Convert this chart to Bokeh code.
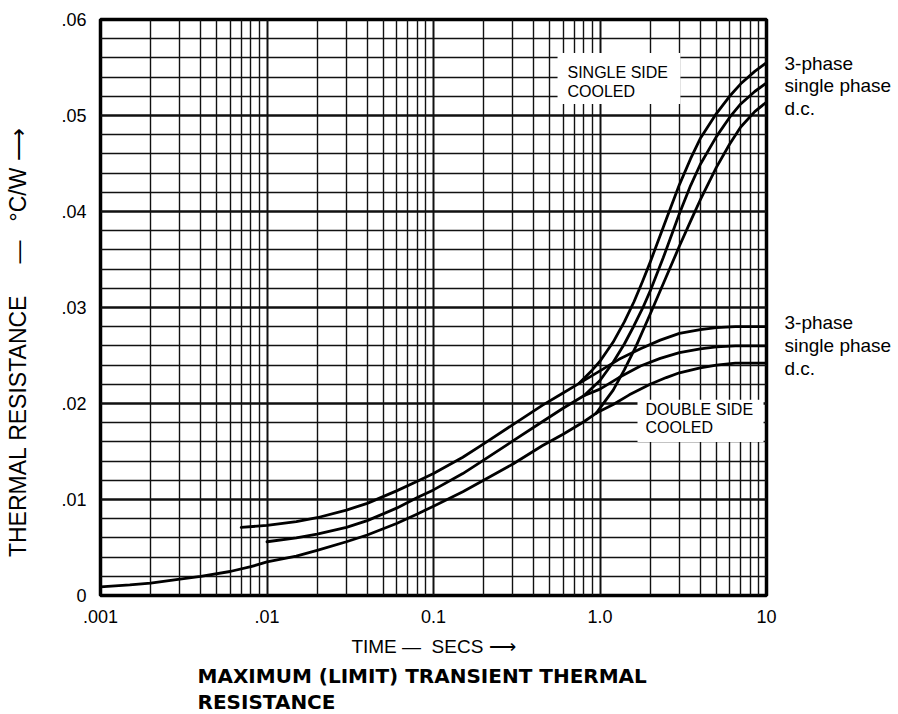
from bokeh.plotting import figure
from bokeh.models import FixedTicker, Label, BoxAnnotation, Range1d, LinearAxis, Title
from bokeh.embed import file_html
from bokeh.resources import INLINE

# ---- axis ticks ----
x_ticks = [0.001, 0.01, 0.1, 1.0, 10.0]
x_tick_labels = [".001", ".01", "0.1", "1.0", "10"]
x_minor = [m * d for d in [0.001, 0.01, 0.1, 1.0] for m in [2, 3, 4, 5, 6, 7, 8, 9]]
y_ticks = [0.0, 0.01, 0.02, 0.03, 0.04, 0.05, 0.06]
y_tick_labels = ["0", ".01", ".02", ".03", ".04", ".05", ".06"]
y_minor = [0.002, 0.004, 0.006, 0.008, 0.012, 0.014, 0.016, 0.018, 0.022, 0.024, 0.026, 0.028,
           0.032, 0.034, 0.036, 0.038, 0.042, 0.044, 0.046, 0.048, 0.052, 0.054, 0.056, 0.058]

# ---- shared (low time) portions ----
three_low_x = [0.007, 0.01, 0.015, 0.02, 0.03, 0.04, 0.06, 0.08, 0.1, 0.15, 0.2, 0.3, 0.45, 0.6, 0.75]
three_low_y = [0.0071, 0.0073, 0.0077, 0.0081, 0.0089, 0.0096, 0.0109, 0.0119, 0.0127, 0.0144, 0.0158, 0.0178, 0.0198, 0.0211, 0.0221]

single_low_x = [0.01, 0.015, 0.02, 0.03, 0.04, 0.06, 0.08, 0.1, 0.15, 0.2, 0.3, 0.45, 0.6, 0.8]
single_low_y = [0.0056, 0.0060, 0.0064, 0.0071, 0.0078, 0.0091, 0.0102, 0.0110, 0.0127, 0.0141, 0.0161, 0.0181, 0.0195, 0.0208]

dc_low_x = [0.001, 0.0015, 0.002, 0.003, 0.004, 0.006, 0.008, 0.01, 0.015, 0.02, 0.03, 0.04, 0.06, 0.08, 0.1,
            0.15, 0.2, 0.3, 0.45, 0.6, 0.8, 0.95]
dc_low_y = [0.0009, 0.0011, 0.0013, 0.0017, 0.0020, 0.0025, 0.0030, 0.0035, 0.0041, 0.0047, 0.0056, 0.0063, 0.0075,
            0.0085, 0.0093, 0.0108, 0.0120, 0.0137, 0.0156, 0.0168, 0.0181, 0.0190]

# ---- single side cooled branches ----
three_ssc_x = [0.75, 0.9, 1.0, 1.2, 1.4, 1.6, 1.8, 2.0, 2.5, 3.0, 3.5, 4.0, 5.0, 6.0, 7.0, 8.5, 10.0]
three_ssc_y = [0.0221, 0.0235, 0.0244, 0.0264, 0.0285, 0.0306, 0.0327, 0.0347, 0.0392, 0.0428, 0.0455, 0.0476,
               0.0502, 0.0520, 0.0533, 0.0546, 0.0555]
single_ssc_x = [0.8, 1.0, 1.2, 1.4, 1.6, 1.8, 2.0, 2.4, 3.0, 3.5, 4.0, 5.0, 6.0, 7.0, 8.5, 10.0]
single_ssc_y = [0.0208, 0.0224, 0.0243, 0.0262, 0.0281, 0.0299, 0.0317, 0.0352, 0.0398, 0.0427, 0.0449, 0.0478,
                0.0498, 0.0512, 0.0525, 0.0534]
dc_ssc_x = [0.95, 1.2, 1.4, 1.65, 2.0, 2.5, 3.0, 3.5, 4.0, 5.0, 6.0, 7.0, 8.5, 10.0]
dc_ssc_y = [0.0190, 0.0214, 0.0235, 0.0260, 0.0293, 0.0332, 0.0364, 0.0390, 0.0412, 0.0446, 0.0470, 0.0488,
            0.0504, 0.0514]

# ---- double side cooled branches ----
three_dsc_x = [0.75, 1.0, 1.3, 1.75, 2.3, 3.0, 4.0, 5.0, 6.5, 10.0]
three_dsc_y = [0.0221, 0.0234, 0.0246, 0.0257, 0.0266, 0.0273, 0.0277, 0.0279, 0.0280, 0.0280]
single_dsc_x = [0.8, 1.0, 1.3, 1.75, 2.3, 3.0, 4.0, 5.0, 6.5, 10.0]
single_dsc_y = [0.0208, 0.0215, 0.0227, 0.0239, 0.0247, 0.0253, 0.0257, 0.0259, 0.0260, 0.0260]
dc_dsc_x = [0.95, 1.2, 1.5, 2.0, 2.5, 3.0, 4.0, 5.0, 6.5, 10.0]
dc_dsc_y = [0.0190, 0.0199, 0.0209, 0.0220, 0.0227, 0.0232, 0.0237, 0.0240, 0.0242, 0.0242]

curve_labels = ["3-phase", "single phase", "d.c."]
ssc_label_y = [0.0554, 0.0531, 0.0507]
dsc_label_y = [0.0284, 0.0260, 0.0236]

FONT = "Liberation Sans"
NB = "\u00a0"

p = figure(x_axis_type="log", x_range=Range1d(0.001, 10), y_range=Range1d(0, 0.06),
           frame_width=666, frame_height=576,
           min_border_left=100, min_border_right=124, min_border_top=19, min_border_bottom=118,
           output_backend="svg", toolbar_location=None)
p.background_fill_color = "white"
p.border_fill_color = "white"
p.outline_line_color = "black"
p.outline_line_width = 3.5

p.xaxis.ticker = FixedTicker(ticks=x_ticks, minor_ticks=x_minor)
p.yaxis.ticker = FixedTicker(ticks=y_ticks, minor_ticks=y_minor)
p.xaxis.major_label_overrides = {t: l for t, l in zip(x_ticks, x_tick_labels)}
p.yaxis.major_label_overrides = {t: l for t, l in zip(y_ticks, y_tick_labels)}
for ax in (p.xaxis[0], p.yaxis[0]):
    ax.axis_line_color = None
    ax.major_tick_line_color = None
    ax.minor_tick_line_color = None
    ax.major_label_text_font = FONT
    ax.major_label_text_font_size = "18px"
    ax.major_label_text_color = "black"
p.xaxis.major_label_standoff = 8
p.yaxis.major_label_standoff = 8

p.xaxis.axis_label = "TIME" + NB + "—" + NB + NB + "SECS" + NB + "⟶"
p.xaxis.axis_label_text_font = FONT
p.xaxis.axis_label_text_font_size = "19px"
p.xaxis.axis_label_text_font_style = "normal"
p.xaxis.axis_label_text_color = "black"
p.xaxis.axis_label_standoff = 10

# y axis title; trailing no-break spaces push the visible text below the frame centre
p.yaxis.axis_label = ("THERMAL" + NB + "RESISTANCE" + NB * 5 + "—" + NB * 3 + "°C/W" + NB + "⟶" + NB * 11)
p.yaxis.axis_label_text_font = FONT
p.yaxis.axis_label_text_font_size = "23px"
p.yaxis.axis_label_text_font_style = "normal"
p.yaxis.axis_label_text_color = "black"
p.yaxis.axis_label_standoff = 27

# right-hand curve names, set as labels of a right axis
lab_ticks = ssc_label_y + dsc_label_y
lab_text = curve_labels + curve_labels
right = LinearAxis(ticker=FixedTicker(ticks=lab_ticks),
                   major_label_overrides={t: l for t, l in zip(lab_ticks, lab_text)},
                   axis_line_color=None, major_tick_line_color=None, minor_tick_line_color=None,
                   major_label_standoff=12, major_label_text_font=FONT,
                   major_label_text_font_size="19px", major_label_text_color="black")
p.add_layout(right, "right")

p.add_layout(Title(text="MAXIMUM (LIMIT) TRANSIENT THERMAL", align="left", offset=97, standoff=4,
                   text_font="DejaVu Sans", text_font_size="20px", text_font_style="bold",
                   text_color="black"), "below")
p.add_layout(Title(text="RESISTANCE", align="left", offset=97, standoff=-4,
                   text_font="DejaVu Sans", text_font_size="20px", text_font_style="bold",
                   text_color="black"), "below")

p.xgrid.grid_line_color = "#111111"
p.xgrid.grid_line_width = 2
p.xgrid.minor_grid_line_color = "#111111"
p.xgrid.minor_grid_line_width = 1.4
p.ygrid.grid_line_color = "#111111"
p.ygrid.grid_line_width = 2.6
p.ygrid.minor_grid_line_color = "#111111"
p.ygrid.minor_grid_line_width = 1.5

# white boxes behind the inset notes
p.add_layout(BoxAnnotation(left=0.556, right=3.04, bottom=0.0512, top=0.0565,
                           fill_color="white", fill_alpha=1, line_color=None, level="glyph"))
p.add_layout(BoxAnnotation(left=1.68, right=9.6, bottom=0.0160, top=0.0204,
                           fill_color="white", fill_alpha=1, line_color=None, level="glyph"))

series = [(three_low_x, three_low_y), (single_low_x, single_low_y), (dc_low_x, dc_low_y),
          (three_ssc_x, three_ssc_y), (single_ssc_x, single_ssc_y), (dc_ssc_x, dc_ssc_y),
          (three_dsc_x, three_dsc_y), (single_dsc_x, single_dsc_y), (dc_dsc_x, dc_dsc_y)]
for xs, ys in series:
    p.line(xs, ys, line_color="black", line_width=2.8, line_join="round", line_cap="round")

def lab(text, x, y, size="16px"):
    p.add_layout(Label(x=x, y=y, text=text, text_font=FONT, text_font_size=size,
                       text_align="left", text_baseline="middle", text_color="black"))

lab("SINGLE  SIDE", 0.638, 0.0545)
lab("COOLED", 0.638, 0.0525)
lab("DOUBLE  SIDE", 1.876, 0.0194)
lab("COOLED", 1.876, 0.0175)

open("out.html", "w").write(file_html(p, INLINE))
